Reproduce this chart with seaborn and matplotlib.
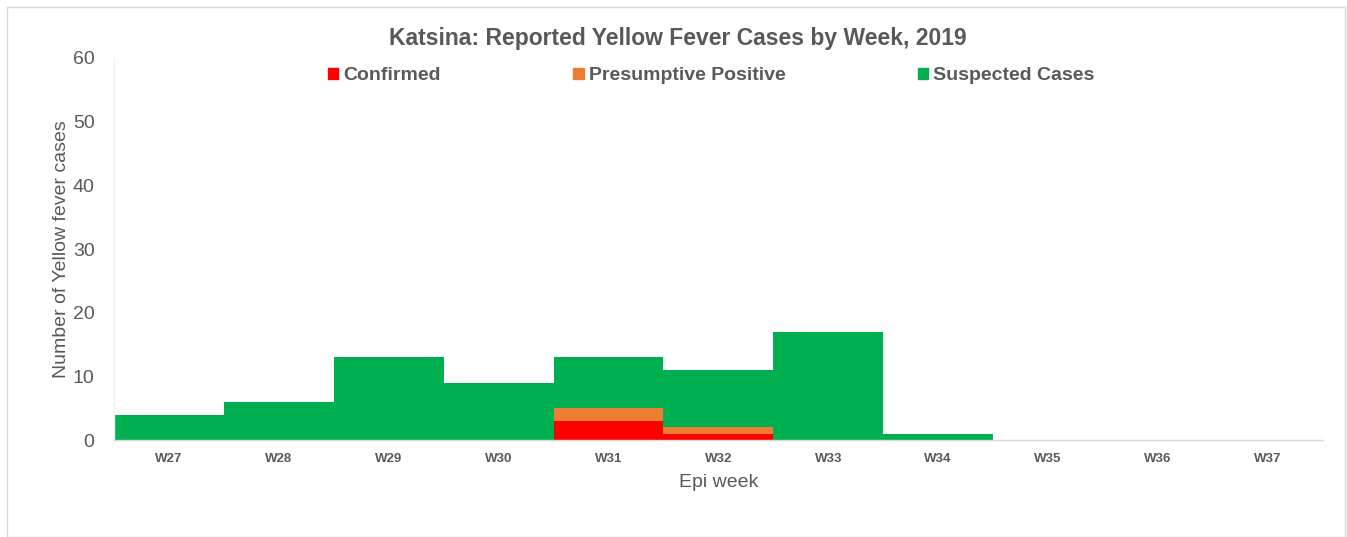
import numpy as np
import pandas as pd
import matplotlib
matplotlib.use("Agg")
import matplotlib.pyplot as plt
from matplotlib.patches import Rectangle, Patch
import seaborn as sns

# data
weeks = ["W27", "W28", "W29", "W30", "W31", "W32", "W33", "W34", "W35", "W36", "W37"]
confirmed = [0, 0, 0, 0, 3, 1, 0, 0, 0, 0, 0]
presumptive = [0, 0, 0, 0, 2, 1, 0, 0, 0, 0, 0]
suspected = [4, 6, 13, 9, 8, 9, 17, 1, 0, 0, 0]

RED = "#FF0000"
ORANGE = "#ED7D31"
GREEN = "#00B050"
GREY = "#595959"

df = pd.DataFrame({"week": weeks, "conf": confirmed, "pres": presumptive, "susp": suspected})
df["lvl2"] = df["conf"] + df["pres"]
df["total"] = df["lvl2"] + df["susp"]

sns.set_theme(style="white")
plt.rcParams["font.family"] = ["Liberation Sans", "DejaVu Sans"]

fig = plt.figure(figsize=(13.47, 5.37), dpi=100)
ax = fig.add_axes([0.0846, 0.1806, 0.8974, 0.7114])

# stacked look: draw the totals first, then overlay the lower layers
sns.barplot(data=df, x="week", y="total", color=GREEN, width=1.0, saturation=1, ax=ax)
sns.barplot(data=df, x="week", y="lvl2", color=ORANGE, width=1.0, saturation=1, ax=ax)
sns.barplot(data=df, x="week", y="conf", color=RED, width=1.0, saturation=1, ax=ax)
for p in ax.patches:
    p.set_linewidth(0)

ax.set_ylim(0, 60)
ax.set_yticks(range(0, 61, 10))
ax.set_xlim(-0.5, len(weeks) - 0.5)

# x ticks at category boundaries, labels centred
ax.set_xticks(np.arange(len(weeks)))
ax.set_xticklabels(weeks, fontsize=9.5, fontweight="bold", color=GREY)
ax.set_xticks(np.arange(-0.5, len(weeks)), minor=True)
ax.tick_params(axis="x", which="major", length=0, pad=9)
ax.tick_params(axis="x", which="minor", length=4, color="#D9D9D9", width=1, direction="out")
ax.tick_params(axis="y", length=0, labelsize=14, labelcolor=GREY, pad=14)

for s in ["top", "right"]:
    ax.spines[s].set_visible(False)
ax.spines["left"].set_color("#F0F0F0")
ax.spines["bottom"].set_color("#D9D9D9")
ax.spines["left"].set_linewidth(1)
ax.spines["bottom"].set_linewidth(1)

ax.set_xlabel("Epi week", fontsize=14, color=GREY, labelpad=7)
ax.set_ylabel("Number of Yellow fever cases", fontsize=14, color=GREY, labelpad=2)
fig.text(678 / 1347, 1 - 38 / 537, "Katsina: Reported Yellow Fever Cases by Week, 2019",
         fontsize=16.5, fontweight="bold", color=GREY, ha="center", va="center")

handles = [Patch(color=RED, label="Confirmed"),
           Patch(color=ORANGE, label="Presumptive Positive"),
           Patch(color=GREEN, label="Suspected Cases")]
leg = ax.legend(handles=handles, loc="center", bbox_to_anchor=(0.494, 0.953),
                ncol=3, frameon=False, handlelength=0.55, handleheight=0.55,
                handletextpad=0.25, columnspacing=6.8, borderpad=0,
                prop={"size": 14, "weight": "bold"})
for t in leg.get_texts():
    t.set_color(GREY)

# light frame around the whole chart
fig.patches.append(Rectangle((7 / 1347, 0), 1338 / 1347, 530 / 537, transform=fig.transFigure,
                             fill=False, edgecolor="#D9D9D9", linewidth=1))

fig.savefig("out.png", dpi=100)
